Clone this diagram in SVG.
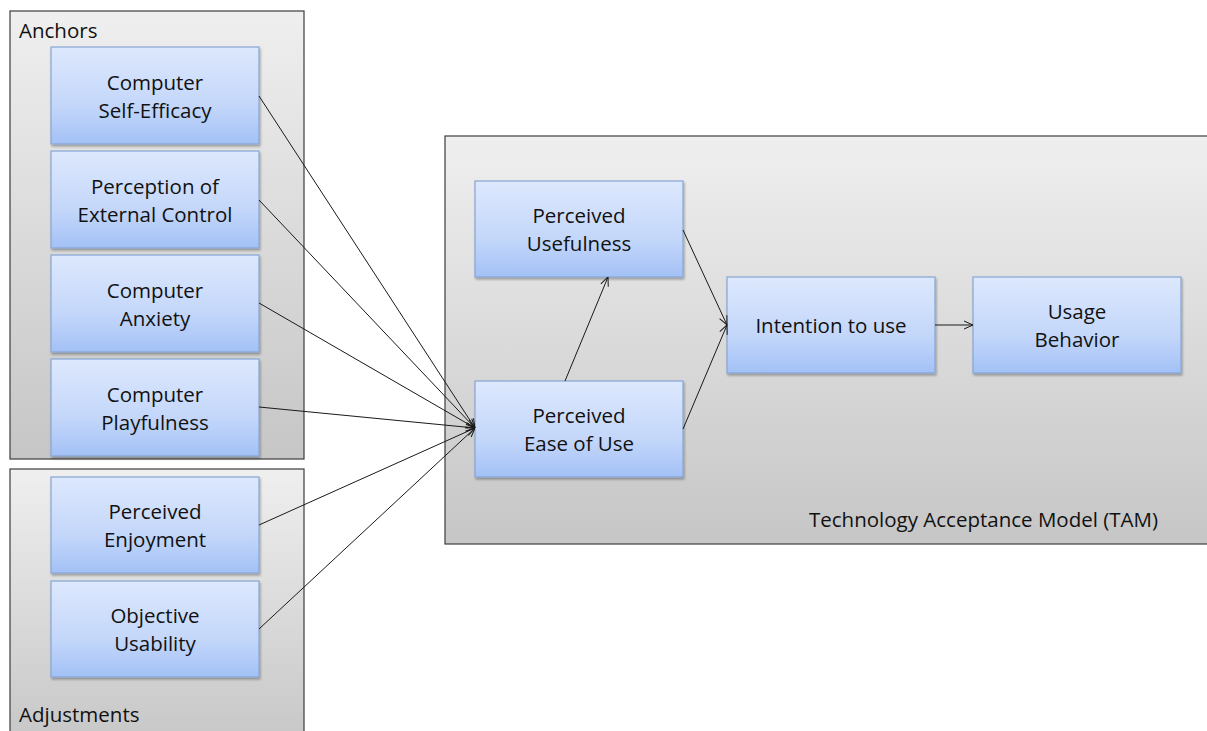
<svg xmlns="http://www.w3.org/2000/svg" width="1207" height="731" viewBox="0 0 1207 731">
<style>
.grp{stroke:#3c3c3c;stroke-width:1.2}
.node{fill:url(#nodeG);stroke:#86a6d4;stroke-width:1.2;filter:url(#sh)}
.t{font-family:"Open Sans","Liberation Sans",sans-serif;font-size:20.5px;fill:#111;text-anchor:middle}
.lbl{font-family:"Open Sans","Liberation Sans",sans-serif;font-size:20.5px;fill:#111}
.c{stroke:#1a1a1a;stroke-width:1;fill:none;marker-end:url(#arr)}
</style>
<defs>
<linearGradient id="nodeG" x1="0" y1="0" x2="0" y2="1">
<stop offset="0" stop-color="#dde8fd"/>
<stop offset="0.6" stop-color="#c4d7fa"/>
<stop offset="1" stop-color="#a3c1f6"/>
</linearGradient>
<linearGradient id="grpG" x1="0" y1="0" x2="0" y2="1">
<stop offset="0" stop-color="#efefef"/>
<stop offset="1" stop-color="#c6c6c6"/>
</linearGradient>
<filter id="sh" x="-10%" y="-10%" width="130%" height="130%">
<feDropShadow dx="1" dy="2" stdDeviation="1.2" flood-color="#000" flood-opacity="0.3"/>
</filter>
<marker id="arr" viewBox="0 0 10 10" refX="10" refY="5" markerWidth="10" markerHeight="10" markerUnits="userSpaceOnUse" orient="auto">
<path d="M1,1 L10,5 L1,9" fill="none" stroke="#1a1a1a" stroke-width="1"/>
</marker>
</defs>

<g id="anchors">
<rect class="grp" x="10" y="11" width="294" height="448" fill="url(#grpG)"/>
<text class="lbl" x="19" y="38">Anchors</text>
</g>
<g id="adjustments">
<rect class="grp" x="10" y="469" width="294" height="280" fill="url(#grpG)"/>
<text class="lbl" x="19" y="722">Adjustments</text>
</g>
<g id="tam">
<rect class="grp" x="445" y="136" width="780" height="408" fill="url(#grpG)"/>
<text class="lbl" x="1158" y="527" text-anchor="end">Technology Acceptance Model (TAM)</text>
</g>

<g id="cse"><rect class="node" x="51" y="47" width="208" height="97"/>
<text class="t" x="155" y="90">Computer</text><text class="t" x="155" y="118">Self-Efficacy</text></g>
<g id="pec"><rect class="node" x="51" y="151" width="208" height="97"/>
<text class="t" x="155" y="194">Perception of</text><text class="t" x="155" y="222">External Control</text></g>
<g id="ca"><rect class="node" x="51" y="255" width="208" height="97"/>
<text class="t" x="155" y="298">Computer</text><text class="t" x="155" y="326">Anxiety</text></g>
<g id="cp"><rect class="node" x="51" y="359" width="208" height="97"/>
<text class="t" x="155" y="402">Computer</text><text class="t" x="155" y="430">Playfulness</text></g>
<g id="pe"><rect class="node" x="51" y="477" width="208" height="96"/>
<text class="t" x="155" y="519">Perceived</text><text class="t" x="155" y="547">Enjoyment</text></g>
<g id="ou"><rect class="node" x="51" y="581" width="208" height="96"/>
<text class="t" x="155" y="623">Objective</text><text class="t" x="155" y="651">Usability</text></g>

<g id="pu"><rect class="node" x="475" y="181" width="208" height="96"/>
<text class="t" x="579" y="223">Perceived</text><text class="t" x="579" y="251">Usefulness</text></g>
<g id="peou"><rect class="node" x="475" y="381" width="208" height="96"/>
<text class="t" x="579" y="423">Perceived</text><text class="t" x="579" y="451">Ease of Use</text></g>
<g id="itu"><rect class="node" x="727" y="277" width="208" height="96"/>
<text class="t" x="831" y="333">Intention to use</text></g>
<g id="ub"><rect class="node" x="973" y="277" width="208" height="96"/>
<text class="t" x="1077" y="319">Usage</text><text class="t" x="1077" y="347">Behavior</text></g>

<g id="connectors">
<line class="c" x1="259" y1="96" x2="475" y2="428"/>
<line class="c" x1="259" y1="200" x2="475" y2="428"/>
<line class="c" x1="259" y1="303" x2="475" y2="428"/>
<line class="c" x1="259" y1="407" x2="475" y2="428"/>
<line class="c" x1="259" y1="525" x2="475" y2="428"/>
<line class="c" x1="259" y1="629" x2="475" y2="428"/>
<line class="c" x1="565" y1="381" x2="608" y2="277"/>
<line class="c" x1="683" y1="230" x2="727" y2="325"/>
<line class="c" x1="683" y1="429" x2="727" y2="325"/>
<line class="c" x1="935" y1="325" x2="973" y2="325"/>
</g>
</svg>
